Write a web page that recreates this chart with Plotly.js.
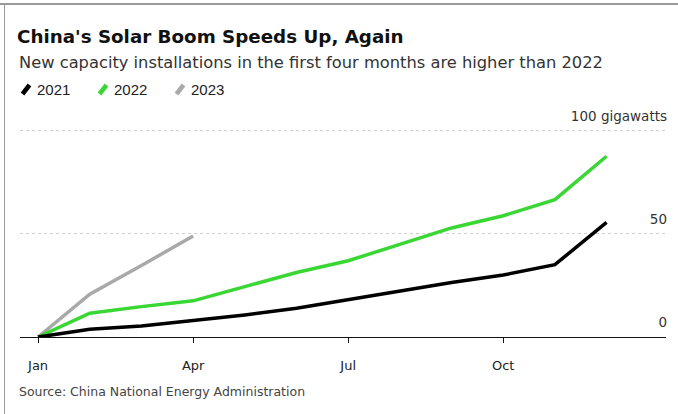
<!DOCTYPE html>
<html>
<head>
<meta charset="utf-8">
<script src="https://cdn.plot.ly/plotly-3.0.1.min.js"></script>
<style>
  html, body { margin: 0; padding: 0; background: #fff; }
  #wrap { position: relative; width: 678px; height: 414px; overflow: hidden; }
  #chart { width: 678px; height: 414px; }
  .frame { position: absolute; background: #9a9a9a; pointer-events: none; }
</style>
</head>
<body>
<div id="wrap">
  <div id="chart"></div>
  <div class="frame" style="left:0; top:3px; width:678px; height:1.5px;"></div>
  <div class="frame" style="left:3.5px; top:3px; width:1.5px; height:411px;"></div>
</div>
<script>
// ---- Data (cumulative new solar capacity, gigawatts) ----
const months = ['Jan','Feb','Mar','Apr','May','Jun','Jul','Aug','Sep','Oct','Nov','Dec'];
const y2021 = [0, 3.7, 5.3, 7.8, 10.7, 13.9, 18.0, 22.5, 26.4, 30.0, 35.0, 55.5];
const y2022 = [0, 11.5, 14.7, 17.5, 24.4, 31.2, 36.9, 44.7, 52.8, 58.7, 66.5, 87.5];
const y2023 = [0, 20.7, 34.6, 48.9];
const seriesNames = ['2021', '2022', '2023'];
const seriesColors = ['#000000', '#39d634', '#a9a9a9'];
const xTickVals = ['Jan', 'Apr', 'Jul', 'Oct'];
const yTickVals = [0, 50, 100];
const yTickText = ['0', '50', '100 gigawatts'];

const FONT = 'Liberation Sans, Arial, Helvetica, sans-serif';
const WIDE = 'DejaVu Sans, Verdana, sans-serif';
const W = 678, H = 414;
const M = { l: 20, r: 12, t: 98, b: 77 };
const PW = W - M.l - M.r, PH = H - M.t - M.b;
const px = x => (x - M.l) / PW;          // pixel -> paper x
const py = y => (H - M.b - y) / PH;      // pixel -> paper y

const allY = [y2021, y2022, y2023];
const traces = allY.map((ys, i) => ({
  type: 'scatter',
  mode: 'lines',
  name: seriesNames[i],
  x: months.slice(0, ys.length),
  y: ys,
  line: { color: seriesColors[i], width: 3.5, shape: 'linear' },
  hoverinfo: 'skip',
  showlegend: false
}));
const ordered = [traces[2], traces[1], traces[0]];

// legend (custom: slanted stroke + label)
const legendX = [22, 99, 176];
const shapes = [];
const annotations = [];
seriesNames.forEach((nm, i) => {
  const cx = legendX[i] + 4;
  shapes.push({
    type: 'line', xref: 'paper', yref: 'paper',
    x0: px(cx - 3.5), y0: py(94), x1: px(cx + 3.5), y1: py(85),
    line: { color: seriesColors[i], width: 4.5 }
  });
  annotations.push({
    xref: 'paper', yref: 'paper', x: px(cx + 9), y: py(89.5),
    xanchor: 'left', yanchor: 'middle', showarrow: false,
    text: nm, font: { family: FONT, size: 15, color: '#222' }
  });
});

annotations.push({
  xref: 'paper', yref: 'paper', x: px(17), y: py(62),
  xanchor: 'left', yanchor: 'middle', showarrow: false,
  text: 'New capacity installations in the first four months are higher than 2022',
  font: { family: WIDE, size: 16.3, color: '#333' }
});
annotations.push({
  xref: 'paper', yref: 'paper', x: px(17), y: py(391),
  xanchor: 'left', yanchor: 'middle', showarrow: false,
  text: 'Source: China National Energy Administration',
  font: { family: WIDE, size: 12.5, color: '#444' }
});

const layout = {
  width: W, height: H,
  margin: M,
  paper_bgcolor: '#fff', plot_bgcolor: '#fff',
  showlegend: false,
  title: {
    text: "<b>China's Solar Boom Speeds Up, Again</b>",
    x: 17 / W, xanchor: 'left', xref: 'container',
    y: 1 - 37 / H, yanchor: 'middle', yref: 'container',
    font: { family: WIDE, size: 18.3, color: '#111' }
  },
  xaxis: {
    type: 'category',
    categoryorder: 'array', categoryarray: months,
    range: [-0.35, 12.15],
    showline: true, linecolor: '#111', linewidth: 1,
    ticks: 'outside', ticklen: 5, tickcolor: '#111', tickwidth: 1,
    tickmode: 'array', tickvals: xTickVals, ticktext: xTickVals,
    ticklabelstandoff: 11,
    tickfont: { family: WIDE, size: 13, color: '#222' },
    showgrid: false, zeroline: false, fixedrange: true
  },
  yaxis: {
    side: 'right',
    range: [0, 115.7],
    tickmode: 'array', tickvals: yTickVals, ticktext: yTickText,
    ticklabelposition: 'inside top',
    ticklabelshift: -5,
    ticklabelstandoff: -4,
    ticks: '',
    tickfont: { family: WIDE, size: 13.5, color: '#333' },
    showgrid: true, gridcolor: '#cfcfcf', gridwidth: 1, griddash: 'dot',
    zeroline: false, showline: false, fixedrange: true
  },
  shapes: shapes,
  annotations: annotations
};

Plotly.newPlot('chart', ordered, layout, { displayModeBar: false, staticPlot: true });
</script>
</body>
</html>
